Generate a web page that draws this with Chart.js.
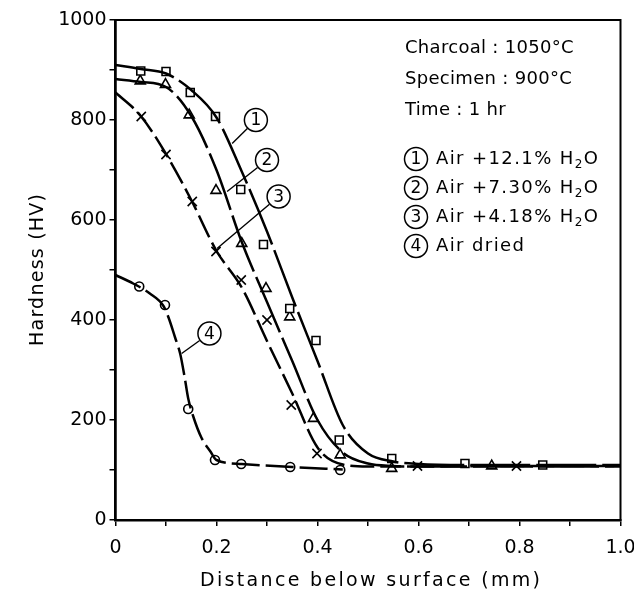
<!DOCTYPE html>
<html>
<head>
<meta charset="utf-8">
<script src="https://cdn.jsdelivr.net/npm/chart.js@4.4.0/dist/chart.umd.min.js"></script>
<style>
  body { margin: 0; background: #fff; }
  canvas { display: block; }
</style>
</head>
<body>
<canvas id="hardness-chart" width="634" height="601"></canvas>
<script>
// measured hardness points, (1) Air + 12.1% H2O  -> squares
let sqX = [0.05, 0.10, 0.148, 0.198, 0.248, 0.293, 0.345, 0.397, 0.443, 0.547, 0.692, 0.846];
let sqY = [898, 897, 855, 807, 661, 551, 423, 359, 160, 123, 113, 110];
// (2) Air + 7.30% H2O -> triangles
let triX = [0.049, 0.099, 0.146, 0.199, 0.25, 0.298, 0.345, 0.392, 0.445, 0.547, 0.745];
let triY = [878, 871, 810, 659, 553, 463, 406, 203, 130, 103, 108];
// (3) Air + 4.18% H2O -> crosses
let crX = [0.051, 0.10, 0.152, 0.199, 0.249, 0.30, 0.348, 0.399, 0.598, 0.794];
let crY = [807, 731, 637, 537, 480, 400, 230, 133, 108, 108];
// (4) Air dried -> circles
let ciX = [0.047, 0.098, 0.144, 0.197, 0.249, 0.346, 0.445];
let ciY = [467, 430, 222, 120, 112, 106, 100];

// hand-drawn fitted curves
let curve1X = [0, 0.05, 0.10, 0.15, 0.20, 0.25, 0.30, 0.35, 0.40, 0.45, 0.50, 0.55, 0.60, 0.70, 0.85, 1.0];
let curve1Y = [910, 902, 893, 860, 805, 697, 577, 445, 318, 190, 133, 117, 112, 110, 110, 110];
let curve2X = [0, 0.05, 0.10, 0.15, 0.20, 0.25, 0.30, 0.35, 0.40, 0.45, 0.50, 0.55, 0.60, 0.75, 1.0];
let curve2Y = [882, 876, 866, 808, 700, 556, 436, 318, 200, 135, 113, 108, 107, 107, 107];
let curve3X = [0, 0.05, 0.10, 0.15, 0.20, 0.25, 0.30, 0.35, 0.40, 0.45, 0.50, 0.60, 0.80, 1.0];
let curve3Y = [855, 808, 732, 640, 538, 465, 358, 253, 145, 111, 107, 107, 108, 108];
let curve4X = [0, 0.035, 0.068, 0.095, 0.105, 0.118, 0.128, 0.137, 0.144, 0.154, 0.17, 0.188, 0.20, 0.25, 0.35, 0.45];
let curve4Y = [490, 473, 453, 428, 405, 365, 333, 285, 243, 207, 165, 137, 120, 112, 106, 101];

let conditions = ['Charcoal : 1050°C', 'Specimen : 900°C', 'Time : 1 hr'];
let seriesLabels = ['Air +12.1% H₂O', 'Air +7.30% H₂O', 'Air +4.18% H₂O', 'Air dried'];
let xTitle = 'Distance below surface (mm)';
let yTitle = 'Hardness (HV)';

const FONT = '"DejaVu Sans", sans-serif';

toPoints = (xs, ys) => xs.map((x, i) => ({ x: x, y: ys[i] }));

curveSet = (xs, ys, dash) => ({
    data: toPoints(xs, ys),
    showLine: true,
    borderColor: '#000',
    borderWidth: 2.5,
    borderDash: dash,
    cubicInterpolationMode: 'monotone',
    pointRadius: 0,
    fill: false
});

markerSet = (xs, ys, style, radius) => ({
    data: toPoints(xs, ys),
    showLine: false,
    pointStyle: style,
    pointRadius: radius,
    pointBorderWidth: 1.6,
    pointBorderColor: '#000',
    pointBackgroundColor: '#fff'
});

// circled number with a leader line, in data coordinates
drawTag = (ctx, chart, tag) => {
    let sx = chart.scales.x, sy = chart.scales.y;
    let cx = sx.getPixelForValue(tag.x), cy = sy.getPixelForValue(tag.y);
    let ex = sx.getPixelForValue(tag.tx), ey = sy.getPixelForValue(tag.ty);
    let ang = Math.atan2(ey - cy, ex - cx);
    ctx.beginPath();
    ctx.moveTo(cx + Math.cos(ang) * 12, cy + Math.sin(ang) * 12);
    ctx.lineTo(ex, ey);
    ctx.lineWidth = 1.4;
    ctx.stroke();
    drawCircledNumber(ctx, cx, cy, tag.n);
};

drawCircledNumber = (ctx, cx, cy, n) => {
    ctx.beginPath();
    ctx.arc(cx, cy, 11.5, 0, Math.PI * 2);
    ctx.lineWidth = 1.5;
    ctx.strokeStyle = '#000';
    ctx.stroke();
    ctx.font = '17px ' + FONT;
    ctx.letterSpacing = '0px';
    ctx.textAlign = 'center';
    ctx.textBaseline = 'middle';
    ctx.fillText(n, cx, cy + 1);
};

// text with letter spacing stretched to a given width
drawSpaced = (ctx, text, x, y, width, rot) => {
    ctx.save();
    ctx.translate(x, y);
    ctx.rotate(rot);
    ctx.letterSpacing = '0px';
    let w = ctx.measureText(text).width;
    let sp = (width - w) / (text.length - 1);
    ctx.letterSpacing = sp + 'px';
    ctx.textAlign = 'left';
    ctx.textBaseline = 'middle';
    ctx.fillText(text, -width / 2, 0);
    ctx.restore();
};

let decorPlugin = {
    id: 'decor',
    afterDraw(chart) {
        let ctx = chart.ctx;
        let a = chart.chartArea;
        ctx.save();
        ctx.strokeStyle = '#000';
        ctx.fillStyle = '#000';

        // frame
        ctx.lineWidth = 2;
        ctx.strokeRect(a.left, a.top, a.right - a.left, a.bottom - a.top);

        // axis titles
        ctx.font = '19px ' + FONT;
        drawSpaced(ctx, xTitle, 370, 581, 340, 0);
        drawSpaced(ctx, yTitle, 38, 270, 152, -Math.PI / 2);

        // curve tags
        let tags = [
            { n: '1', x: 0.278, y: 800, tx: 0.231, ty: 753 },
            { n: '2', x: 0.300, y: 720, tx: 0.221, ty: 657 },
            { n: '3', x: 0.323, y: 647, tx: 0.201, ty: 543 },
            { n: '4', x: 0.186, y: 373, tx: 0.131, ty: 333 }
        ];
        tags.forEach(t => drawTag(ctx, chart, t));

        // conditions block
        ctx.font = '18px ' + FONT;
        ctx.letterSpacing = '0.3px';
        ctx.textAlign = 'left';
        ctx.textBaseline = 'middle';
        conditions.forEach((s, i) => ctx.fillText(s, 405, 48 + i * 31));

        // series key
        seriesLabels.forEach((s, i) => {
            let y = 159 + i * 29;
            drawCircledNumber(ctx, 416, y, String(i + 1));
            ctx.font = '18px ' + FONT;
            ctx.letterSpacing = '1.4px';
            ctx.textAlign = 'left';
            ctx.textBaseline = 'middle';
            let parts = s.split('₂');
            let x = 436;
            ctx.fillText(parts[0], x, y);
            if (parts.length > 1) {
                x += ctx.measureText(parts[0]).width;
                ctx.font = '12px ' + FONT;
                ctx.fillText('2', x, y + 6);
                x += ctx.measureText('2').width;
                ctx.font = '18px ' + FONT;
                ctx.fillText(parts[1], x, y);
            }
        });
        ctx.restore();
    }
};

let hardnessCfg = {
    type: 'scatter',
    data: {
        datasets: [
            curveSet(curve1X, curve1Y, [60, 6]),
            curveSet(curve2X, curve2Y, [60, 6]),
            curveSet(curve3X, curve3Y, [24, 6]),
            curveSet(curve4X, curve4Y, [28, 6]),
            markerSet(sqX, sqY, 'rect', 5.6),
            markerSet(triX, triY, 'triangle', 5.8),
            markerSet(crX, crY, 'crossRot', 6.5),
            markerSet(ciX, ciY, 'circle', 4.5)
        ]
    },
    options: {
        responsive: false,
        animation: false,
        layout: { padding: { top: 20, right: 13.5, left: 0, bottom: 0 } },
        plugins: { legend: { display: false }, tooltip: { enabled: false } },
        scales: {
            x: {
                type: 'linear',
                min: 0,
                max: 1,
                afterFit: (s) => {
                    s.height = 81;
                    s.paddingLeft = 0;
                    s.paddingRight = 0;
                },
                ticks: {
                    stepSize: 0.1,
                    color: '#000',
                    padding: 11,
                    maxRotation: 0,
                    autoSkip: false,
                    font: { family: FONT, size: 19 },
                    callback: (v) => {
                        let t = Math.round(v * 10);
                        if (t % 2) return '';
                        return t === 0 ? '0' : (t / 10).toFixed(1);
                    }
                },
                grid: { drawOnChartArea: false, drawTicks: true, tickLength: 6, color: '#000', lineWidth: 1.5 },
                border: { color: '#000', width: 2.5 }
            },
            y: {
                type: 'linear',
                min: 0,
                max: 1000,
                afterFit: (s) => {
                    s.width = 115.5;
                    s.paddingTop = 0;
                    s.paddingBottom = 0;
                },
                ticks: {
                    stepSize: 100,
                    color: '#000',
                    padding: 3,
                    autoSkip: false,
                    font: { family: FONT, size: 19 },
                    callback: (v) => (v % 200 ? '' : String(v))
                },
                grid: { drawOnChartArea: false, drawTicks: true, tickLength: 6, color: '#000', lineWidth: 1.5 },
                border: { color: '#000', width: 2.5 }
            }
        }
    },
    plugins: [decorPlugin]
};

let hardnessChart = new Chart(document.getElementById('hardness-chart'), hardnessCfg);
</script>
</body>
</html>
